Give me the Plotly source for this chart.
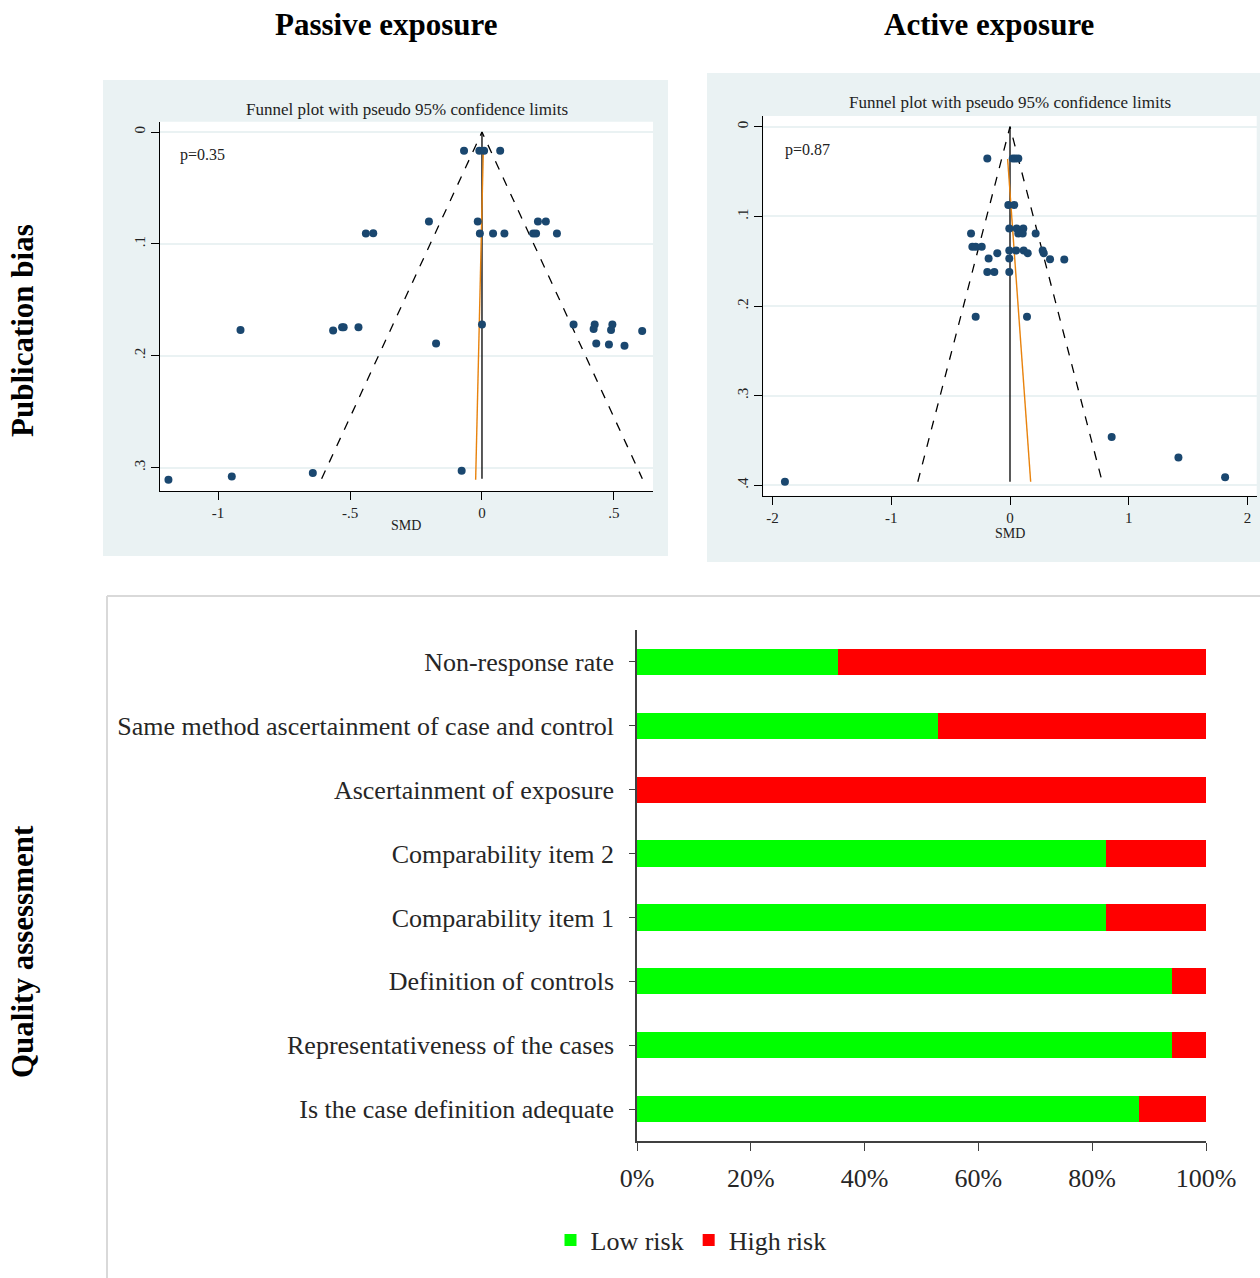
import plotly.graph_objects as go

# ---------------- DATA ----------------
# Passive exposure funnel plot (SMD vs standard error)
passive_smd = [-1.188, -0.948, -0.641, -0.915, -0.564, -0.530, -0.524, -0.468, -0.440, -0.412,
               -0.201, -0.174, -0.068, -0.077, -0.010, 0.008, 0.069, -0.016, -0.008, 0.042,
               0.085, 0.194, 0.205, 0.212, 0.242, 0.284, 0.000, 0.347, 0.427, 0.423,
               0.494, 0.489, 0.607, 0.433, 0.481, 0.540]
passive_se = [0.311, 0.308, 0.305, 0.177, 0.1775, 0.1745, 0.1745, 0.1745, 0.0907, 0.0905,
              0.080, 0.189, 0.0167, 0.303, 0.0167, 0.0167, 0.0167, 0.080, 0.0907, 0.0907,
              0.0907, 0.0907, 0.0907, 0.080, 0.080, 0.0907, 0.172, 0.172, 0.172, 0.176,
              0.172, 0.177, 0.178, 0.189, 0.190, 0.191]
passive_pooled = 0.0
passive_se_max = 0.31
passive_reg_smd = [0.005, -0.024]
passive_reg_se = [0.0167, 0.311]
passive_p = "p=0.35"

# Active exposure funnel plot
active_smd = [-1.895, -0.191, 0.023, 0.045, 0.070, -0.014, 0.036, -0.006, 0.056, 0.112,
              0.070, 0.107, -0.328, 0.216, -0.317, -0.289, -0.238, -0.107, -0.006, 0.051,
              0.115, 0.149, 0.275, 0.284, 0.337, 0.457, -0.180, -0.006, -0.191, -0.132,
              -0.006, -0.289, 0.143, 0.856, 1.418, 1.811]
active_se = [0.396, 0.0353, 0.0353, 0.0353, 0.0353, 0.0874, 0.0874, 0.1134, 0.1134, 0.1134,
             0.119, 0.119, 0.119, 0.119, 0.134, 0.134, 0.134, 0.141, 0.138, 0.138,
             0.138, 0.141, 0.138, 0.141, 0.1477, 0.148, 0.147, 0.147, 0.162, 0.162,
             0.162, 0.212, 0.212, 0.346, 0.369, 0.391]
active_pooled = 0.0
active_se_max = 0.396
active_reg_smd = [-0.020, 0.174]
active_reg_se = [0.036, 0.396]
active_p = "p=0.87"

# Quality assessment (percent of studies)
qa_items = ["Non-response rate",
            "Same method ascertainment of case and control",
            "Ascertainment of exposure",
            "Comparability item 2",
            "Comparability item 1",
            "Definition of controls",
            "Representativeness of the cases",
            "Is the case definition adequate"]
qa_low = [35.3, 52.9, 0.0, 82.4, 82.4, 94.1, 94.1, 88.2]
qa_high = [64.7, 47.1, 100.0, 17.6, 17.6, 5.9, 5.9, 11.8]

funnel_yticks = [0, 0.1, 0.2, 0.3]
funnel_yticks_active = [0, 0.1, 0.2, 0.3, 0.4]
passive_xticks = [-1, -0.5, 0, 0.5]
passive_xtext = ["-1", "-.5", "0", ".5"]
active_xticks = [-2, -1, 0, 1, 2]
pct_ticks = [0, 20, 40, 60, 80, 100]
pct_text = ["0%", "20%", "40%", "60%", "80%", "100%"]

# ---------------- STYLE ----------------
W, H = 1260, 1278
STATA_BG = "#EAF2F3"
NAVY = "#1A476F"
ORANGE = "#E8820C"
SERIF = "Liberation Serif"


def px(x):
    return x / W


def py(y):
    return 1 - y / H


fig = go.Figure()


def add_funnel(smd, se, pooled, se_max, reg_smd, reg_se, xa, ya):
    lo = pooled - 1.96 * se_max
    hi = pooled + 1.96 * se_max
    fig.add_trace(go.Scatter(x=[lo, pooled, hi], y=[se_max, 0, se_max], mode="lines",
                             line=dict(color="black", width=1.3, dash="dash"),
                             xaxis=xa, yaxis=ya, showlegend=False, hoverinfo="skip"))
    fig.add_trace(go.Scatter(x=[pooled, pooled], y=[0, se_max], mode="lines",
                             line=dict(color="black", width=1.3),
                             xaxis=xa, yaxis=ya, showlegend=False, hoverinfo="skip"))
    fig.add_trace(go.Scatter(x=reg_smd, y=reg_se, mode="lines",
                             line=dict(color=ORANGE, width=1.4),
                             xaxis=xa, yaxis=ya, showlegend=False, hoverinfo="skip"))
    fig.add_trace(go.Scatter(x=smd, y=se, mode="markers",
                             marker=dict(color=NAVY, size=8),
                             xaxis=xa, yaxis=ya, showlegend=False))


add_funnel(passive_smd, passive_se, passive_pooled, passive_se_max,
           passive_reg_smd, passive_reg_se, "x", "y")
add_funnel(active_smd, active_se, active_pooled, active_se_max,
           active_reg_smd, active_reg_se, "x2", "y2")

fig.add_trace(go.Bar(y=qa_items, x=qa_low, orientation="h", name="Low risk",
                     marker=dict(color="#00FF00", line=dict(width=0)), width=0.41,
                     xaxis="x3", yaxis="y3"))
fig.add_trace(go.Bar(y=qa_items, x=qa_high, orientation="h", name="High risk",
                     marker=dict(color="#FF0000", line=dict(width=0)), width=0.41,
                     xaxis="x3", yaxis="y3"))

funnel_axis_font = dict(family=SERIF, size=15, color="#222")
common_x = dict(showline=True, linecolor="black", linewidth=1, ticks="outside", ticklen=8,
                tickcolor="black", showgrid=False, zeroline=False, tickfont=funnel_axis_font,
                automargin=False)
common_y = dict(showline=True, linecolor="black", linewidth=1, ticks="outside", ticklen=8,
                tickcolor="black", showgrid=True, gridcolor=STATA_BG, gridwidth=1.5,
                zeroline=False, tickfont=funnel_axis_font, tickangle=-90, automargin=False)

fig.update_layout(
    width=W, height=H, margin=dict(l=0, r=0, t=0, b=0, autoexpand=False),
    paper_bgcolor="white", plot_bgcolor="rgba(0,0,0,0)",
    barmode="stack", bargap=0.59,
    xaxis=dict(domain=[px(160), px(653)], range=[-1.22, 0.648], anchor="y",
               tickvals=passive_xticks, ticktext=passive_xtext, **common_x),
    yaxis=dict(domain=[py(491), py(121.7)], range=[0.321, -0.0093], anchor="x",
               tickvals=funnel_yticks, ticktext=["0", ".1", ".2", ".3"], **common_y),
    xaxis2=dict(domain=[px(763.3), px(1256.7)], range=[-2.077, 2.077], anchor="y2",
                tickvals=active_xticks, ticktext=[str(v) for v in active_xticks], **common_x),
    yaxis2=dict(domain=[py(495.7), py(116)], range=[0.4116, -0.012], anchor="x2",
                tickvals=funnel_yticks_active, ticktext=["0", ".1", ".2", ".3", ".4"], **common_y),
    xaxis3=dict(domain=[px(637), px(1206)], range=[0, 100], anchor="y3",
                tickvals=pct_ticks, ticktext=pct_text, showline=True, linecolor="#404040",
                linewidth=1.5, ticks="outside", ticklen=8, tickcolor="#404040",
                showgrid=False, zeroline=False, automargin=False, ticklabelstandoff=5,
                tickfont=dict(family=SERIF, size=26, color="#262626")),
    yaxis3=dict(domain=[py(1141), py(630)], anchor="x3", autorange="reversed",
                showline=True, linecolor="#404040", linewidth=1.5, ticks="outside",
                ticklen=6, tickcolor="#404040", ticklabelstandoff=10, automargin=False,
                tickfont=dict(family=SERIF, size=26, color="#262626")),
    legend=dict(orientation="h", x=px(691), xanchor="center", y=py(1240), yanchor="middle",
                font=dict(family=SERIF, size=26, color="#262626"), itemwidth=30,
                bgcolor="rgba(0,0,0,0)", traceorder="normal"),
    shapes=[
        dict(type="rect", xref="paper", yref="paper", x0=px(103), x1=px(668),
             y0=py(556), y1=py(80), fillcolor=STATA_BG, line=dict(width=0), layer="below"),
        dict(type="rect", xref="paper", yref="paper", x0=px(160), x1=px(653),
             y0=py(491), y1=py(121.7), fillcolor="white", line=dict(width=0), layer="below"),
        dict(type="rect", xref="paper", yref="paper", x0=px(707), x1=px(1260),
             y0=py(562), y1=py(73), fillcolor=STATA_BG, line=dict(width=0), layer="below"),
        dict(type="rect", xref="paper", yref="paper", x0=px(763.3), x1=px(1256.7),
             y0=py(495.7), y1=py(116), fillcolor="white", line=dict(width=0), layer="below"),
        dict(type="line", xref="paper", yref="paper", x0=px(107), x1=px(107),
             y0=py(596), y1=0, line=dict(color="#D9D9D9", width=2)),
        dict(type="line", xref="paper", yref="paper", x0=px(107), x1=1,
             y0=py(596), y1=py(596), line=dict(color="#D9D9D9", width=2)),
    ],
)

ann = []
title_font = dict(family=SERIF, size=31, color="black")
ann.append(dict(text="<b>Passive exposure</b>", x=px(386), y=py(25), xref="paper", yref="paper",
                showarrow=False, font=title_font, xanchor="center", yanchor="middle"))
ann.append(dict(text="<b>Active exposure</b>", x=px(989), y=py(25), xref="paper", yref="paper",
                showarrow=False, font=title_font, xanchor="center", yanchor="middle"))
ann.append(dict(text="<b>Publication bias</b>", x=px(22), y=py(331), xref="paper", yref="paper",
                showarrow=False, font=title_font, textangle=-90, xanchor="center", yanchor="middle"))
ann.append(dict(text="<b>Quality assessment</b>", x=px(22), y=py(952), xref="paper", yref="paper",
                showarrow=False, font=title_font, textangle=-90, xanchor="center", yanchor="middle"))
ftitle = dict(family=SERIF, size=17, color="#222")
ann.append(dict(text="Funnel plot with pseudo 95% confidence limits", x=px(407), y=py(109),
                xref="paper", yref="paper", showarrow=False, font=ftitle,
                xanchor="center", yanchor="middle"))
ann.append(dict(text="Funnel plot with pseudo 95% confidence limits", x=px(1010), y=py(103),
                xref="paper", yref="paper", showarrow=False, font=ftitle,
                xanchor="center", yanchor="middle"))
ann.append(dict(text="SMD", x=px(406), y=py(526), xref="paper", yref="paper", showarrow=False,
                font=dict(family=SERIF, size=14, color="#222"), xanchor="center", yanchor="middle"))
ann.append(dict(text="SMD", x=px(1010), y=py(533), xref="paper", yref="paper", showarrow=False,
                font=dict(family=SERIF, size=14, color="#222"), xanchor="center", yanchor="middle"))
ann.append(dict(text=passive_p, x=-1.152, y=0.0203, xref="x", yref="y", showarrow=False,
                font=dict(family=SERIF, size=16, color="#222"), xanchor="left", yanchor="middle"))
ann.append(dict(text=active_p, x=-1.91, y=0.026, xref="x2", yref="y2", showarrow=False,
                font=dict(family=SERIF, size=16, color="#222"), xanchor="left", yanchor="middle"))
fig.update_layout(annotations=ann)

fig.write_html("out.html", config={"displayModeBar": False},
               post_script="document.body.style.margin='0';"
                           "document.body.style.padding='0';"
                           "document.documentElement.style.overflow='hidden';")
